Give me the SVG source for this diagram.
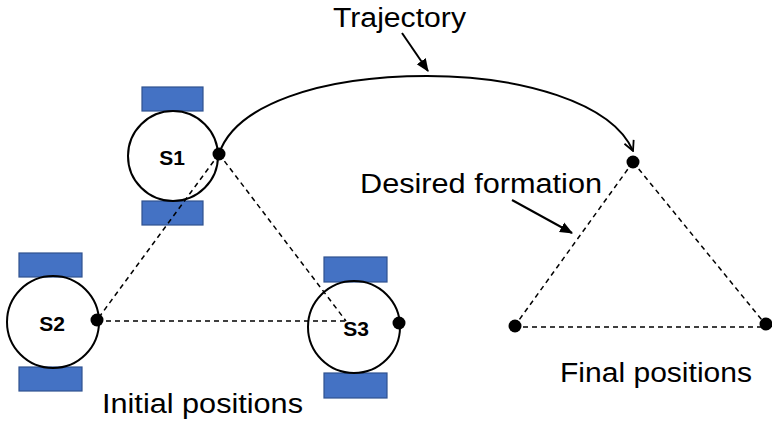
<svg xmlns="http://www.w3.org/2000/svg" width="772" height="423" viewBox="0 0 772 423">
  <style>
    .wheel { fill: #4472C4; stroke: #2F528F; stroke-width: 1.2; }
    .body { fill: none; stroke: #000000; stroke-width: 2; }
    .dot { fill: #000000; }
    .dash { fill: none; stroke: #000000; stroke-width: 1.5; stroke-dasharray: 5 4; }
    .solid { fill: none; stroke: #000000; stroke-width: 2; }
    .id { font-family: "Liberation Sans", Arial, sans-serif; font-weight: bold; font-size: 21px; fill: #000000; text-anchor: middle; }
    .label { font-family: "Liberation Sans", Arial, sans-serif; font-size: 27px; fill: #000000; }
  </style>
  <defs>
    <marker id="openHead" viewBox="0 0 12 12" refX="11" refY="6" markerWidth="12" markerHeight="12" markerUnits="userSpaceOnUse" orient="auto">
      <path d="M1,1 L11,6 L1,11" fill="none" stroke="#000000" stroke-width="1.8"/>
    </marker>
    <marker id="solidHead" viewBox="0 0 12 12" refX="11" refY="6" markerWidth="13" markerHeight="13" markerUnits="userSpaceOnUse" orient="auto">
      <path d="M0,1 L12,6 L0,11 Z" fill="#000000"/>
    </marker>
  </defs>

  <!-- robot S1 -->
  <g id="s1">
    <rect class="wheel" x="142" y="87" width="61" height="24"/>
    <rect class="wheel" x="142" y="201" width="61" height="24"/>
    <circle class="body" cx="173" cy="156" r="45"/>
    <text class="id" x="172" y="165">S1</text>
  </g>

  <!-- robot S2 -->
  <g id="s2">
    <rect class="wheel" x="19" y="253" width="63" height="24"/>
    <rect class="wheel" x="19" y="367" width="63" height="24"/>
    <circle class="body" cx="53" cy="322" r="46"/>
    <text class="id" x="52" y="331">S2</text>
  </g>

  <!-- robot S3 -->
  <g id="s3">
    <rect class="wheel" x="324" y="257" width="63" height="25"/>
    <rect class="wheel" x="324" y="373" width="63" height="25"/>
    <circle class="body" cx="354" cy="327" r="46"/>
    <text class="id" x="356" y="336">S3</text>
  </g>

  <!-- connectors: formation edges, trajectory and label pointers -->
  <g id="connectors">
    <line class="dash" x1="219" y1="154" x2="97" y2="320"/>
    <line class="dash" x1="219" y1="154" x2="346" y2="321"/>
    <line class="dash" x1="97" y1="321" x2="346" y2="321"/>

    <line class="dash" x1="633" y1="162" x2="514" y2="327"/>
    <line class="dash" x1="633" y1="162" x2="766" y2="325"/>
    <line class="dash" x1="514" y1="327" x2="766" y2="327"/>

    <path class="solid" d="M219,154 C235,105 320,76 427,76 C520,76 612,102 633,151" marker-end="url(#openHead)"/>
    <line class="solid" x1="402" y1="33" x2="428" y2="71" marker-end="url(#solidHead)"/>
    <line class="solid" x1="512" y1="200" x2="572" y2="233" marker-end="url(#solidHead)"/>
  </g>

  <!-- robot reference points (drawn above the edges) -->
  <g id="robot-points">
    <circle class="dot" cx="219" cy="154" r="6.5"/>
    <circle class="dot" cx="97" cy="320" r="6.5"/>
    <circle class="dot" cx="399" cy="323" r="6.5"/>
  </g>

  <!-- target formation vertices -->
  <g id="formation">
    <circle class="dot" cx="633" cy="162" r="6.5"/>
    <circle class="dot" cx="515" cy="326" r="6.5"/>
    <circle class="dot" cx="766" cy="324" r="6.5"/>
  </g>

  <g id="labels">
    <text class="label" x="333" y="27" textLength="133" lengthAdjust="spacingAndGlyphs">Trajectory</text>
    <text class="label" x="360" y="193" textLength="242" lengthAdjust="spacingAndGlyphs">Desired formation</text>
    <text class="label" x="560" y="382" textLength="192" lengthAdjust="spacingAndGlyphs">Final positions</text>
    <text class="label" x="102" y="413" textLength="201" lengthAdjust="spacingAndGlyphs">Initial positions</text>
  </g>
</svg>
